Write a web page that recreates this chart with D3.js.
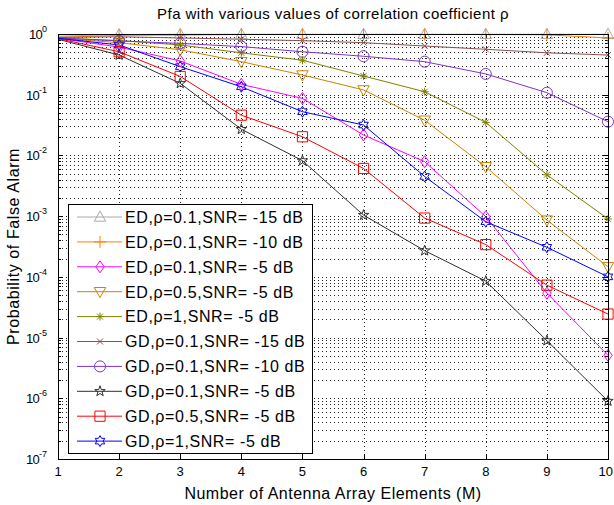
<!DOCTYPE html>
<html><head><meta charset="utf-8">
<script src="https://cdn.jsdelivr.net/npm/d3@7"></script>
<style>
body{margin:0;background:#fff}
svg{display:block}
text{font-family:"Liberation Sans",Arial,Helvetica,sans-serif;fill:#000}
</style>
</head><body>
<svg id="c" width="614" height="505"></svg>
<script>
// ---------------- data ----------------
const elements = [1,2,3,4,5,6,7,8,9,10];
const xTicks = [1,2,3,4,5,6,7,8,9,10];
const yTickExponents = [0,-1,-2,-3,-4,-5,-6,-7];
const seriesLabels = [
  "ED,\u03C1=0.1,SNR= -15 dB",
  "ED,\u03C1=0.1,SNR= -10 dB",
  "ED,\u03C1=0.1,SNR= -5 dB",
  "ED,\u03C1=0.5,SNR= -5 dB",
  "ED,\u03C1=1,SNR= -5 dB",
  "GD,\u03C1=0.1,SNR= -15 dB",
  "GD,\u03C1=0.1,SNR= -10 dB",
  "GD,\u03C1=0.1,SNR= -5 dB",
  "GD,\u03C1=0.5,SNR= -5 dB",
  "GD,\u03C1=1,SNR= -5 dB"
];
const edRho01Snr15 = [0.92,0.98,0.99,0.99,0.99,0.99,0.99,0.99,0.99,0.99];
const edRho01Snr10 = [0.88,0.95,0.96,0.98,0.98,0.98,0.98,0.98,0.97,0.86];
const edRho01Snr5  = [0.85,0.61,0.36,0.148,0.087,0.0217,0.0079,9.8e-4,5.4e-5,5.1e-6];
const edRho05Snr5  = [0.85,0.72,0.55,0.35,0.211,0.12,0.038,0.0065,8.6e-4,1.47e-4];
const edRho1Snr5   = [0.86,0.78,0.66,0.49,0.37,0.203,0.112,0.035,0.0048,9e-4];
const gdRho01Snr15 = [0.88,0.9,0.86,0.82,0.776,0.72,0.634,0.56,0.49,0.45];
const gdRho01Snr10 = [0.86,0.77,0.70,0.62,0.51,0.43,0.35,0.22,0.108,0.036];
const gdRho01Snr5  = [0.82,0.45,0.154,0.027,0.0082,1.04e-3,2.7e-4,8.5e-5,8.9e-6,9e-7];
const gdRho05Snr5  = [0.84,0.51,0.20,0.046,0.0203,0.0061,9.3e-4,3.4e-4,7.3e-5,2.44e-5];
const gdRho1Snr5   = [0.85,0.66,0.29,0.135,0.0525,0.0317,0.0045,8.1e-4,3.07e-4,1.0e-4];
const seriesValues = [edRho01Snr15,edRho01Snr10,edRho01Snr5,edRho05Snr5,edRho1Snr5,
                      gdRho01Snr15,gdRho01Snr10,gdRho01Snr5,gdRho05Snr5,gdRho1Snr5];
const seriesColors = ["#a8a8a8","#ff8000","#ff00ff","#cc8400","#808000",
                      "#8c5050","#8033cc","#303030","#ff0000","#0000ff"];
const seriesMarkers = ["tri","plus","diamond","triDown","asterisk",
                       "x","circle","pentagram","square","hexagram"];

// ---------------- layout ----------------
const W = 614;
const m = {left:58, right:608, top:34, bottom:459};
const svg = d3.select("#c");
const x = d3.scaleLinear().domain([1,10]).range([m.left, m.right]);
const y = d3.scaleLog().domain([1e-7,1]).range([m.bottom, m.top]);

// grid
const grid = svg.append("g").attr("stroke","#222").attr("stroke-width",1)
  .attr("stroke-dasharray","1,3").attr("shape-rendering","crispEdges");
xTicks.slice(1,-1).forEach(t=>{
  grid.append("line").attr("x1",Math.round(x(t))+0.5).attr("x2",Math.round(x(t))+0.5)
    .attr("y1",m.top).attr("y2",m.bottom);
});
const minorVals = [];
for (let e=-7; e<0; e++) for (let k=1; k<=9; k++) minorVals.push(k*Math.pow(10,e));
minorVals.forEach(v=>{
  if (v<=1e-7+1e-12) return;
  const yy = Math.round(y(v))+0.5;
  grid.append("line").attr("x1",m.left).attr("x2",m.right).attr("y1",yy).attr("y2",yy);
});

// tick marks
const ticks = svg.append("g").attr("stroke","#000").attr("stroke-width",1).attr("shape-rendering","crispEdges");
xTicks.forEach(t=>{
  const xx = Math.round(x(t))+0.5;
  ticks.append("line").attr("x1",xx).attr("x2",xx).attr("y1",m.bottom).attr("y2",m.bottom-5);
  ticks.append("line").attr("x1",xx).attr("x2",xx).attr("y1",m.top).attr("y2",m.top+5);
});
minorVals.forEach(v=>{
  const yy = Math.round(y(v))+0.5;
  const major = Math.abs(Math.log10(v)-Math.round(Math.log10(v)))<1e-9;
  const len = major?5:3;
  ticks.append("line").attr("x1",m.left).attr("x2",m.left+len).attr("y1",yy).attr("y2",yy);
  ticks.append("line").attr("x1",m.right).attr("x2",m.right-len).attr("y1",yy).attr("y2",yy);
});

// markers
function markerPath(type, r){
  const p = d3.path();
  if (type==="tri"){ p.moveTo(0,-r); p.lineTo(r*0.95,r*0.7); p.lineTo(-r*0.95,r*0.7); p.closePath(); }
  else if (type==="triDown"){ p.moveTo(0,r); p.lineTo(r*0.95,-r*0.7); p.lineTo(-r*0.95,-r*0.7); p.closePath(); }
  else if (type==="diamond"){ p.moveTo(0,-r); p.lineTo(r*0.7,0); p.lineTo(0,r); p.lineTo(-r*0.7,0); p.closePath(); }
  else if (type==="square"){ p.rect(-r*0.85,-r*0.85,r*1.7,r*1.7); }
  else if (type==="circle"){ p.arc(0,0,r*0.92,0,2*Math.PI); }
  else if (type==="plus"){ p.moveTo(-r,0); p.lineTo(r,0); p.moveTo(0,-r); p.lineTo(0,r); }
  else if (type==="x"){ const a=r*0.6; p.moveTo(-a,-a); p.lineTo(a,a); p.moveTo(-a,a); p.lineTo(a,-a); }
  else if (type==="asterisk"){ const a=r*0.6, b=r*0.8; p.moveTo(-b,0); p.lineTo(b,0); p.moveTo(0,-b); p.lineTo(0,b);
    p.moveTo(-a,-a); p.lineTo(a,a); p.moveTo(-a,a); p.lineTo(a,-a); }
  else if (type==="pentagram"){
    for (let i=0;i<10;i++){ const rr = i%2? r*0.4 : r; const ang = -Math.PI/2 + i*Math.PI/5;
      const px=rr*Math.cos(ang), py=rr*Math.sin(ang); if(i===0)p.moveTo(px,py); else p.lineTo(px,py);} p.closePath(); }
  else if (type==="hexagram"){
    for (let i=0;i<12;i++){ const rr = i%2? r*0.58 : r; const ang = -Math.PI/2 + i*Math.PI/6;
      const px=rr*Math.cos(ang), py=rr*Math.sin(ang); if(i===0)p.moveTo(px,py); else p.lineTo(px,py);} p.closePath(); }
  return p.toString();
}
const markerSize = {tri:6,triDown:6,diamond:6,square:6,circle:6,plus:6,x:5,asterisk:5,pentagram:5.5,hexagram:5.5};

// lines
const line = d3.line().x(d=>x(d[0])).y(d=>y(d[1]));
const plot = svg.append("g");
seriesValues.forEach((vals,i)=>{
  const pts = elements.map((e,j)=>[e,vals[j]]);
  plot.append("path").attr("d",line(pts)).attr("fill","none")
    .attr("stroke",seriesColors[i]).attr("stroke-width",1);
});
seriesValues.forEach((vals,i)=>{
  const pts = elements.map((e,j)=>[e,vals[j]]).filter(d=>d[0]>1);
  plot.selectAll(null).data(pts).enter().append("path")
    .attr("transform",d=>`translate(${x(d[0])},${y(d[1])})`)
    .attr("d",markerPath(seriesMarkers[i],markerSize[seriesMarkers[i]]))
    .attr("fill","none").attr("stroke",seriesColors[i]).attr("stroke-width",1);
});

// axes box
svg.append("rect").attr("x",m.left+0.5).attr("y",m.top+0.5)
  .attr("width",m.right-m.left).attr("height",m.bottom-m.top)
  .attr("fill","none").attr("stroke","#000").attr("stroke-width",1).attr("shape-rendering","crispEdges");

// tick labels
xTicks.forEach(t=>{
  const tx = svg.append("text").attr("x",x(t)).attr("y",m.bottom+17).attr("text-anchor","middle")
    .attr("font-size",13).text(t);
  const half = tx.node().getComputedTextLength()/2;
  if (x(t)+half > W-1) tx.attr("x", W-1-half);
});
yTickExponents.forEach(e=>{
  const t = svg.append("text").attr("x",47).attr("y",y(Math.pow(10,e))+5).attr("text-anchor","end")
    .attr("font-size",13).attr("letter-spacing",-0.8);
  t.append("tspan").text("10");
  t.append("tspan").attr("dy",-7).attr("font-size",9).attr("letter-spacing",0).text(e);
});

// titles
svg.append("text").attr("x",(m.left+m.right)/2).attr("y",19).attr("text-anchor","middle")
  .attr("font-size",15).attr("letter-spacing",0.45).text("Pfa with various values of correlation coefficient \u03C1");
svg.append("text").attr("x",(m.left+m.right)/2).attr("y",499).attr("text-anchor","middle")
  .attr("font-size",16).attr("letter-spacing",0.5).text("Number of Antenna Array Elements (M)");
svg.append("text").attr("transform",`translate(19,${(m.top+m.bottom)/2}) rotate(-90)`)
  .attr("text-anchor","middle").attr("font-size",16).attr("letter-spacing",0.6).text("Probability of False Alarm");

// legend
const lg = svg.append("g");
lg.append("rect").attr("x",68.5).attr("y",204.5).attr("width",244).attr("height",249)
  .attr("fill","#fff").attr("stroke","#000").attr("stroke-width",1);
seriesLabels.forEach((lab,i)=>{
  const yy = 217 + i*24.9;
  lg.append("line").attr("x1",77).attr("x2",122).attr("y1",yy).attr("y2",yy)
    .attr("stroke",seriesColors[i]).attr("stroke-width",1);
  lg.append("path").attr("transform",`translate(100,${yy})`)
    .attr("d",markerPath(seriesMarkers[i],markerSize[seriesMarkers[i]]))
    .attr("fill","none").attr("stroke",seriesColors[i]).attr("stroke-width",1);
  lg.append("text").attr("x",125).attr("y",yy+5.8).attr("font-size",16).attr("letter-spacing",0.6).text(lab);
});
</script>
</body></html>
